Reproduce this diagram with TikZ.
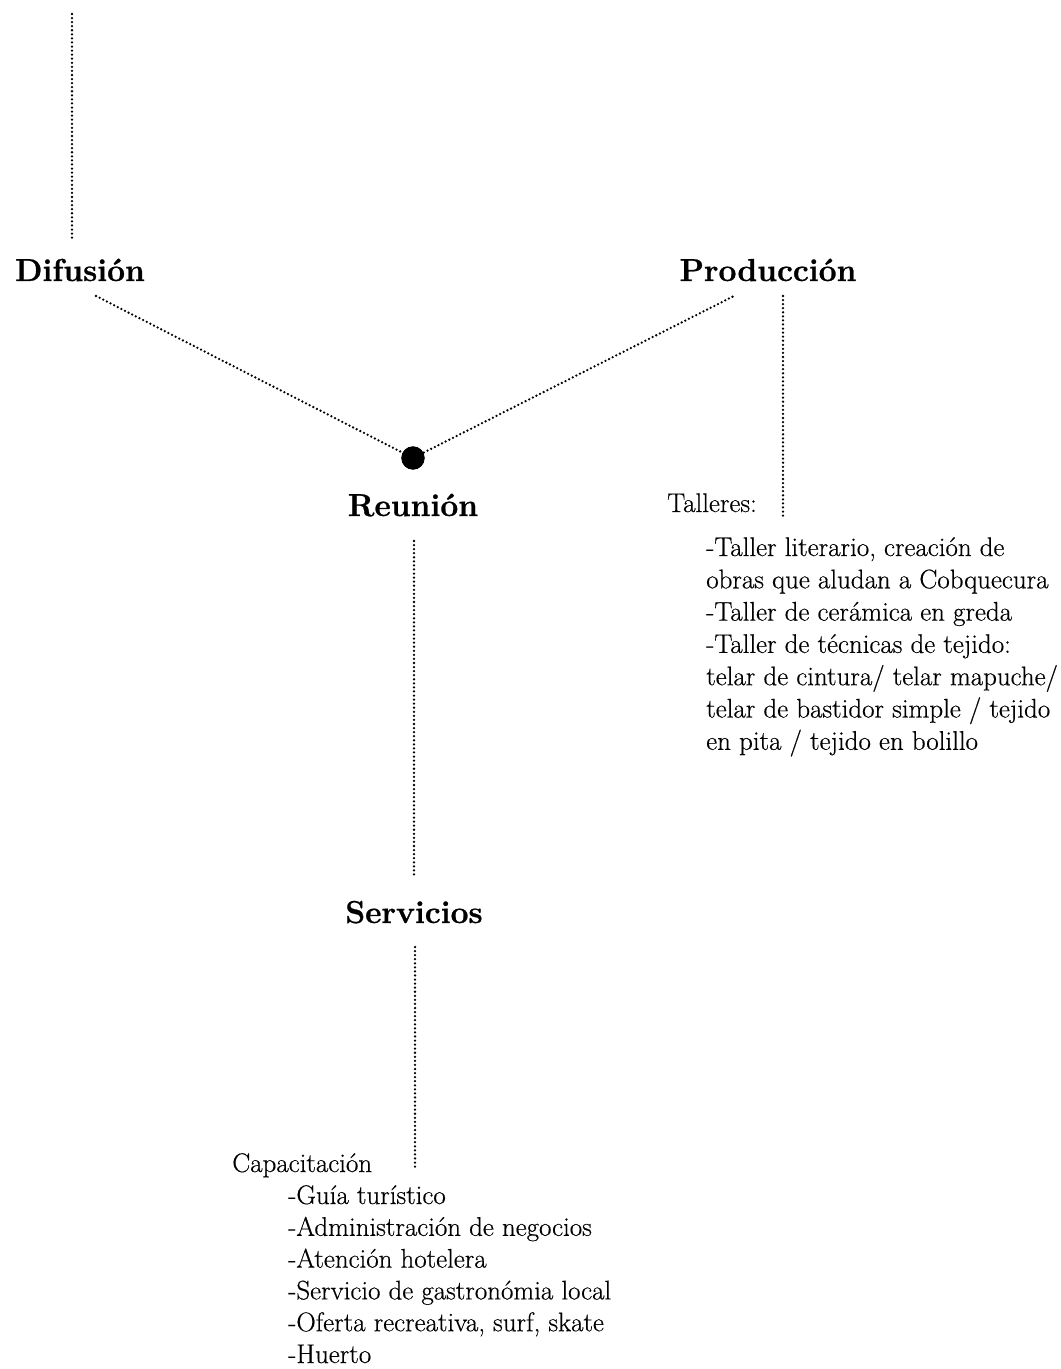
\documentclass[tikz,border=0pt]{standalone}
\usepackage{fontspec}
\setmainfont{Latin Modern Roman}[FakeBold=0.45]
\newfontfamily\titlefont{Latin Modern Roman}[FakeBold=0.8]
\begin{document}
\begin{tikzpicture}[x=0.75pt,y=-0.75pt,
  dotline/.style={line width=1.9pt,line cap=round,dash pattern=on 0pt off 3.05pt},
  title/.style={font=\fontsize{23.8}{28}\titlefont\bfseries,anchor=base,inner sep=0pt},
  label/.style={font=\fontsize{20.2}{24}\selectfont,anchor=base west,inner sep=0pt},
  item/.style={font=\fontsize{20.2}{24}\selectfont,anchor=base west,inner sep=0pt}]
\useasboundingbox (0,0) rectangle (1060,1369);
% titles
\node[title] (dif) at (80,281) {Difusión};
\node[title] (prod) at (768,281) {Producción};
\node[title] (reu) at (413,516) {Reunión};
\node[title] (serv) at (414,923) {Servicios};
\node[circle,fill=black,inner sep=0pt,minimum size=17.5pt] (dot) at (413,458) {};
% labels
\node[label] (tall) at (667,512) {Talleres:};
\node[label] (cap) at (232,1172) {Capacitación};
% taller items
\foreach \t [count=\i from 0] in {{-Taller literario, creación de},{obras que aludan a Cobquecura},{-Taller de cerámica en greda},{-Taller de técnicas de tejido:},{telar de cintura/ telar mapuche/},{telar de bastidor simple / tejido},{en pita / tejido en bolillo}}
  \node[item] (ta\i) at (706,{556+32.3*\i}) {\t};
% capacitacion items
\foreach \t [count=\i from 0] in {{-Guía turístico},{-Administración de negocios},{-Atención hotelera},{-Servicio de gastronómia local},{-Oferta recreativa, surf, skate},{-Huerto}}
  \node[item] (ca\i) at (288,{1204+31.8*\i}) {\t};
% coordinates
\coordinate (topA) at (72,14);
\coordinate (topB) at (72,238);
\coordinate (difE) at (96,296);
\coordinate (prodW) at (734,296);
\coordinate (prodA) at (783,296);
\coordinate (prodB) at (783,518);
\coordinate (reuA) at (414,541);
\coordinate (reuB) at (414,876);
\coordinate (servA) at (415,947);
\coordinate (servB) at (415,1170);
% connectors
\draw[dotline] (topA) -- (topB);
\draw[dotline] (difE) -- (dot.center);
\draw[dotline] (dot.center) -- (prodW);
\draw[dotline] (prodA) -- (prodB);
\draw[dotline] (reuA) -- (reuB);
\draw[dotline] (servA) -- (servB);
\fill (dot) circle (8.6pt);
\end{tikzpicture}
\end{document}
